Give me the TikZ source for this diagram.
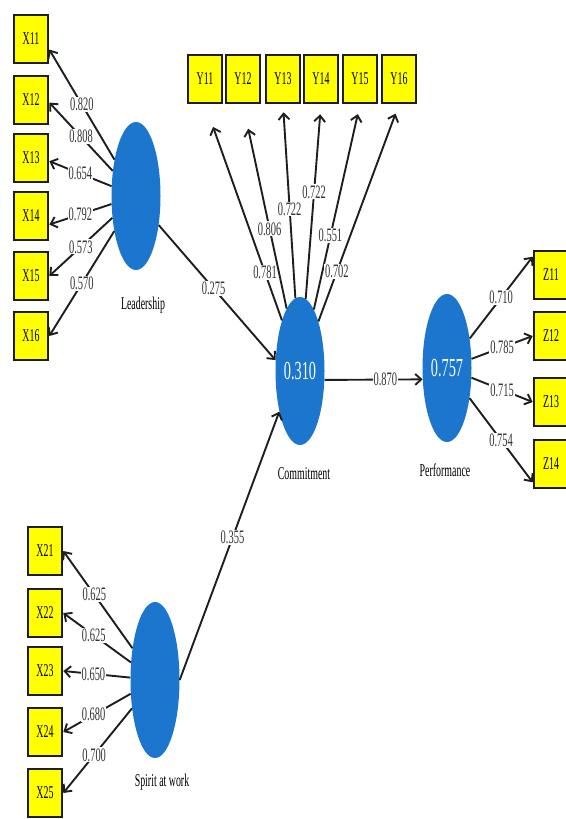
\documentclass[tikz,border=0pt]{standalone}
\usepackage{fontspec}
\usetikzlibrary{arrows.meta, shapes.geometric}
\newfontfamily\nfont[FakeStretch=0.55]{Liberation Serif}
\definecolor{PB}{RGB}{28,118,206}
\definecolor{PY}{RGB}{255,255,0}
\definecolor{DG}{RGB}{30,30,30}

\begin{document}
\begin{tikzpicture}[x=1pt, y=-1pt,
  lv/.style={ellipse, fill=PB, minimum width=49pt, minimum height=148pt,
             inner sep=0pt, text=white, font=\nfont\fontsize{26}{28}\selectfont},
  ind/.style={draw=DG, line width=2.6pt, fill=PY, minimum width=34pt,
              minimum height=48pt, inner sep=0pt, font=\nfont\fontsize{18}{20}\selectfont},
  nm/.style={font=\nfont\fontsize{18}{20}\selectfont},
  lbl/.style={fill=white, inner sep=1pt, text=black!80,
              font=\nfont\fontsize{19}{20}\selectfont},
  arr/.style={draw=DG, line width=1.9pt, -{Straight Barb[length=6pt, width=11pt]}}
]
\useasboundingbox (0,0) rectangle (565,819);

% Latent variables
\node[lv] (lead)   at (136,196) {};
\node[lv] (comm)   at (300,371) {0.310};
\node[lv] (perf)   at (447,368) {0.757};
\node[lv, minimum height=156pt] (spirit) at (155,680) {};

\node[nm] (leadname)   at (143,305) {Leadership};
\node[nm] (commname)   at (304,474) {Commitment};
\node[nm] (perfname)   at (445,470) {Performance};
\node[nm] (spiritname) at (162,782) {Spirit at work};

% Indicators
\foreach \i/\y in {1/39, 2/100, 3/158, 4/216, 5/276, 6/336}
  \node[ind] (x1\i) at (31,\y) {X1\i};
\foreach \i/\x in {1/205, 2/243, 3/283, 4/321, 5/360, 6/399}
  \node[ind] (y1\i) at (\x,79) {Y1\i};
\foreach \i/\y in {1/275, 2/336, 3/402, 4/464}
  \node[ind] (z1\i) at (551,\y) {Z1\i};
\foreach \i/\y in {1/551, 2/613, 3/671, 4/732, 5/793}
  \node[ind] (x2\i) at (45,\y) {X2\i};

% Loadings
\foreach \i/\a/\v in {1/-30/0.820, 2/-8/0.808, 3/-10/0.654, 4/-25/0.792, 5/east/0.573, 6/east/0.570}
  \draw[arr] (lead) -- node[lbl] {\v} (x1\i.\a);
\foreach \i/\v/\p/\s in {1/0.781/0.22/24pt, 2/0.806/0.39/25pt, 3/0.722/0.46/8pt,
                         4/0.722/0.55/10pt, 5/0.551/0.36/10pt, 6/0.702/0.23/10pt}
  \draw[arr, shorten >=\s] (comm) -- node[lbl, pos=\p] {\v} (y1\i.south);
\foreach \i/\a/\v in {1/135/0.710, 2/west/0.785, 3/west/0.715, 4/225/0.754}
  \draw[arr] (perf) -- node[lbl] {\v} (z1\i.\a);
\foreach \i/\v in {1/0.625, 2/0.625, 3/0.650, 4/0.680, 5/0.700}
  \draw[arr] (spirit) -- node[lbl, pos=0.55] {\v} (x2\i.east);

% Paths
\draw[arr] (lead.-52) -- node[lbl, pos=0.47] {0.275} (comm.156);
\draw[arr] (spirit.east) -- node[lbl, pos=0.53] {0.355} (comm.243);
\draw[arr] (comm.-20) -- node[lbl, pos=0.62] {0.870} (perf.205);
\end{tikzpicture}
\end{document}
